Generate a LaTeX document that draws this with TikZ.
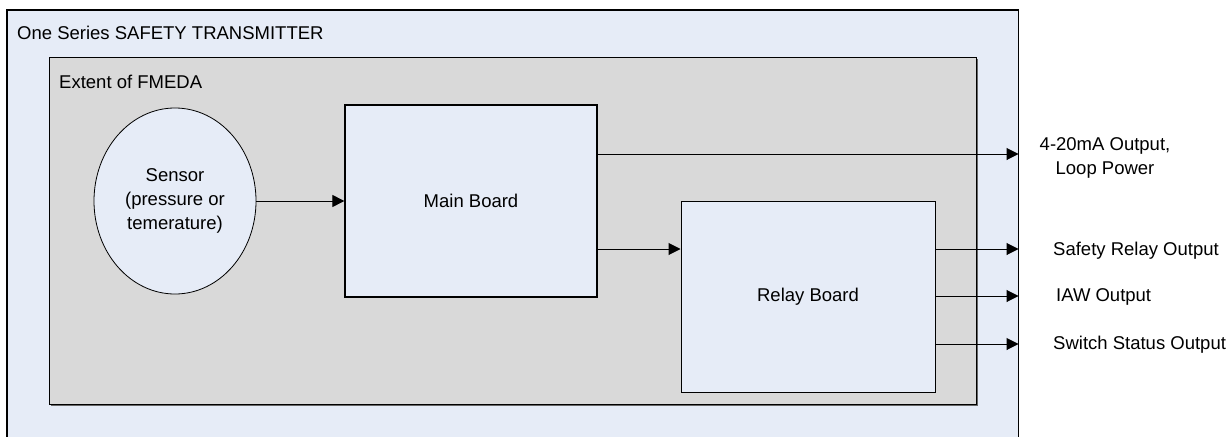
\documentclass[tikz,border=0pt]{standalone}
\usepackage{fontspec}
\setmainfont{Liberation Sans}
\usetikzlibrary{arrows.meta,shapes.geometric}
\definecolor{lightblue}{HTML}{E6ECF7}
\definecolor{panelgray}{HTML}{D9D9D9}
\begin{document}
\begin{tikzpicture}[x=1pt,y=-1pt,
  font=\fontsize{18.5}{24}\selectfont,
  block/.style={draw=black, fill=lightblue, line width=1.3pt, inner sep=0pt},
  arr/.style={draw=black, line width=1pt, -{Triangle[length=12pt,width=12pt]}},
  lbl/.style={inner sep=0pt, anchor=west},
  title/.style={inner sep=0pt, anchor=base west}]
\useasboundingbox (0,0) rectangle (1230,436);
% outer system box (open at bottom, runs past the page edge)
\fill[lightblue] (7,10) rectangle (1018.5,445);
\draw[line width=1.2pt] (7,445) -- (7,10) -- (1018.5,10) -- (1018.5,445);
% FMEDA extent panel
\fill[black!60] (50.5,59.5) rectangle (977.5,406);
\filldraw[fill=panelgray, draw=black, line width=1pt] (49,58) rectangle (976,404);
\node[title] (ttl) at (17,40) {One Series SAFETY TRANSMITTER};
\node[title] (ext) at (59,88) {Extent of FMEDA};
% blocks
\node[block, ellipse, line width=0.8pt, minimum width=162pt, minimum height=186pt, align=center] (sensor) at (175,201) {Sensor\\(pressure or\\temerature)};
\node[block, rectangle, minimum width=252pt, minimum height=192pt] (main) at (471,201) {Main Board};
\node[block, rectangle, line width=1pt, minimum width=254pt, minimum height=191pt] (relay) at (808,296.5) {Relay Board};
% output points on the system boundary
\coordinate (o1) at (1018.5,154);
\coordinate (r1) at (1018.5,249);
\coordinate (r2) at (1018.5,296);
\coordinate (r3) at (1018.5,344);
% connectors
\draw[arr] (sensor.east) -- (main.west);
\draw[arr] (main.east |- o1) -- (o1);
\draw[arr] (main.east |- r1) -- (relay.west |- r1);
\draw[arr] (relay.east |- r1) -- (r1);
\draw[arr] (relay.east |- r2) -- (r2);
\draw[arr] (relay.east |- r3) -- (r3);
% output labels
\node[inner sep=0pt, align=center] (l1) at (1105,158) {4-20mA Output,\\Loop Power};
\node[lbl] (l2) at (1053,251) {Safety Relay Output};
\node[lbl] (l3) at (1056,297) {IAW Output};
\node[lbl] (l4) at (1053,345) {Switch Status Output};
\end{tikzpicture}
\end{document}
